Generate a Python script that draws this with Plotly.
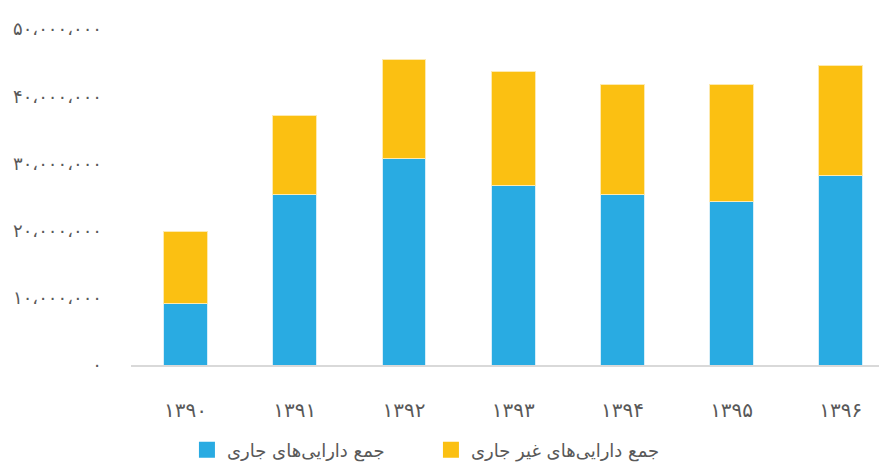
import plotly.graph_objects as go

years = ["۱۳۹۰", "۱۳۹۱", "۱۳۹۲", "۱۳۹۳", "۱۳۹۴", "۱۳۹۵", "۱۳۹۶"]
current_assets = [9100000, 25300000, 30700000, 26700000, 25400000, 24300000, 28200000]
noncurrent_assets = [10700000, 11900000, 14700000, 17000000, 16300000, 17500000, 16400000]
series_names = ["جمع دارایی‌های جاری", "جمع دارایی‌های غیر جاری"]
series_colors = ["#29ABE2", "#FBC012"]
y_tick_vals = [0, 10000000, 20000000, 30000000, 40000000, 50000000]
y_tick_text = ["۰", "۱۰،۰۰۰،۰۰۰", "۲۰،۰۰۰،۰۰۰", "۳۰،۰۰۰،۰۰۰", "۴۰،۰۰۰،۰۰۰", "۵۰،۰۰۰،۰۰۰"]

FONT = "DejaVu Sans"
GRAY = "#595959"

fig = go.Figure()
fig.add_trace(go.Bar(x=years, y=current_assets, name=series_names[0], showlegend=False,
                     marker=dict(color=series_colors[0], line=dict(color="#d6eef9", width=1))))
fig.add_trace(go.Bar(x=years, y=noncurrent_assets, name=series_names[1], showlegend=False,
                     marker=dict(color=series_colors[1], line=dict(color="#fdeab0", width=1))))
# legend entries with larger square swatches
for name, color in zip(series_names, series_colors):
    fig.add_trace(go.Scatter(x=[None], y=[None], mode="markers", name=name,
                             marker=dict(symbol="square", size=19, color=color)))

# page body has an 8px default margin; figure is sized/offset to compensate
fig.update_layout(
    width=879, height=454,
    barmode="stack", bargap=0.6,
    margin=dict(l=123, r=0, t=21, b=97, autoexpand=False),
    paper_bgcolor="white", plot_bgcolor="white",
    font=dict(family=FONT, color=GRAY),
    legend=dict(orientation="h", x=0.074, xanchor="left", y=-0.253, yanchor="middle",
                font=dict(size=18, color=GRAY, family=FONT), entrywidth=199,
                itemsizing="trace", traceorder="normal"),
)
fig.update_xaxes(range=[-0.5, 6.423], showgrid=False, showline=True, linecolor="#d9d9d9",
                 linewidth=1.5, ticks="", tickfont=dict(size=20, color=GRAY, family=FONT),
                 ticklabelstandoff=26, automargin=False)
fig.update_yaxes(range=[0, 50000000], showgrid=False, showline=False, zeroline=False,
                 tickvals=y_tick_vals, ticktext=y_tick_text, ticks="",
                 tickfont=dict(size=18, color=GRAY, family=FONT), ticklabelstandoff=28,
                 automargin=False)

fig.write_html("out.html")
